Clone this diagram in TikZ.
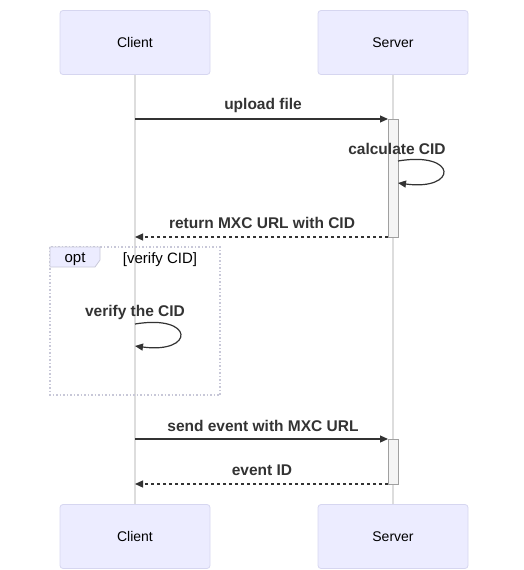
\documentclass[tikz,border=0pt]{standalone}
\usepackage{fontspec}
\setmainfont{Liberation Sans}
\usetikzlibrary{arrows.meta}
\definecolor{actfill}{HTML}{ECECFF}
\definecolor{actline}{HTML}{D6D6F0}
\definecolor{lifecol}{HTML}{DDDDDD}
\definecolor{msgcol}{HTML}{333333}
\definecolor{barfill}{HTML}{F4F4F4}
\definecolor{barline}{HTML}{A0A0A0}
\definecolor{loopline}{HTML}{C8C8D8}
\tikzset{
  actor/.style={draw=actline, fill=actfill, line width=0.8pt, rounded corners=3pt, minimum width=150pt, minimum height=64pt, inner sep=0pt, font=\fontsize{14}{16}\selectfont, text=black},
  lifeline/.style={draw=lifecol, line width=1.5pt},
  actbar/.style={draw=barline, fill=barfill, line width=1pt},
  msg/.style={draw=msgcol, line width=1.2pt, -{Triangle[length=8pt,width=7pt]}},
  rmsg/.style={msg, dash pattern=on 3pt off 3pt},
  msgtext/.style={font=\bfseries\fontsize{15.5}{17}\selectfont, text=msgcol, inner sep=0pt},
  looptext/.style={font=\fontsize{15}{17}\selectfont, text=black, inner sep=0pt},
}
\begin{document}
\begin{tikzpicture}[x=1pt,y=-1pt]
\useasboundingbox (0,0) rectangle (523,570);
% lifelines
\coordinate (ctop) at (135,74);
\coordinate (cbot) at (135,504);
\coordinate (stop) at (393,74);
\coordinate (sbot) at (393,504);
\draw[lifeline] (ctop) -- (cbot);
\draw[lifeline] (stop) -- (sbot);
% actors
\node[actor] (c1) at (135,42.5) {Client};
\node[actor] (s1) at (393,42.5) {Server};
\node[actor] (c2) at (135,536.5) {Client};
\node[actor] (s2) at (393,536.5) {Server};
% activation bars
\draw[actbar] (388,119) rectangle (398,237);
\draw[actbar] (388,439) rectangle (398,484);
% opt frame
\draw[draw=loopline, line width=1.5pt, dotted] (50,247) rectangle (220,395);
\draw[draw=loopline, fill=actfill, line width=0.8pt] (50,247) -- (100,247) -- (100,260) -- (95,267) -- (50,267) -- cycle;
\node[looptext] (optl) at (75,259) {opt};
\node[looptext] (optc) at (160,260) {[verify CID]};
% messages
\coordinate (m1a) at (135,119);
\coordinate (m1b) at (388,119);
\node[msgtext] (t1) at (263,105) {upload file};
\draw[msg] (m1a) -- (m1b);

\node[msgtext] (t2) at (397,149) {calculate CID};
\coordinate (l1a) at (398,161);
\coordinate (l1b) at (398,183);
\draw[msg] (l1a) .. controls (458,151) and (458,191) .. (l1b);

\node[msgtext] (t3) at (262,223) {return MXC URL with CID};
\coordinate (m3a) at (388,237);
\coordinate (m3b) at (135,237);
\draw[rmsg] (m3a) -- (m3b);

\node[msgtext] (t4) at (135,312) {verify the CID};
\coordinate (l2a) at (135,324);
\coordinate (l2b) at (135,346);
\draw[msg] (l2a) .. controls (195,314) and (195,354) .. (l2b);

\node[msgtext] (t5) at (263,426) {send event with MXC URL};
\coordinate (m5a) at (135,439);
\coordinate (m5b) at (388,439);
\draw[msg] (m5a) -- (m5b);

\node[msgtext] (t6) at (262,470) {event ID};
\coordinate (m6a) at (388,484);
\coordinate (m6b) at (135,484);
\draw[rmsg] (m6a) -- (m6b);
\end{tikzpicture}
\end{document}
